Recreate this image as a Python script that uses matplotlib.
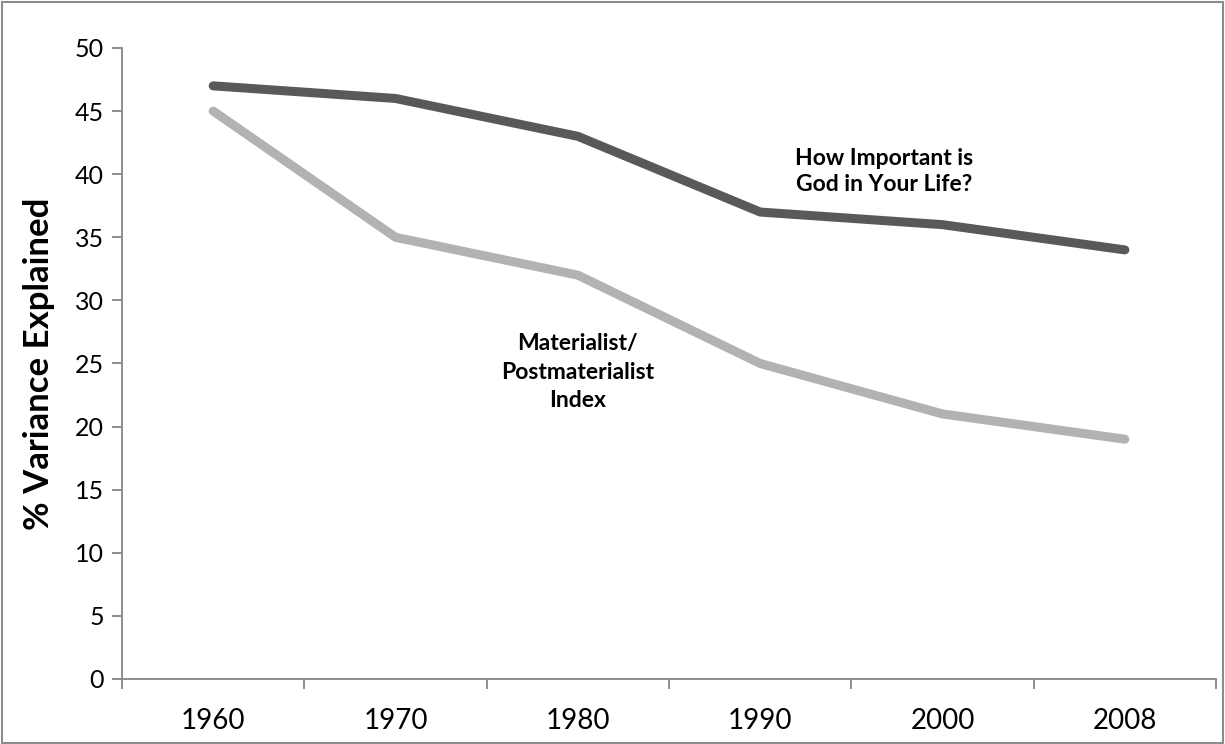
import numpy as np
import matplotlib

matplotlib.use("Agg")
import matplotlib.pyplot as plt
from matplotlib.patches import Rectangle

years = ["1960", "1970", "1980", "1990", "2000", "2008"]
god_importance = [47, 46, 43, 37, 36, 34]
materialist_index = [45, 35, 32, 25, 21, 19]
y_ticks = [0, 5, 10, 15, 20, 25, 30, 35, 40, 45, 50]

plt.rcParams["font.family"] = ["Lato", "DejaVu Sans"]

fig = plt.figure(figsize=(12.25, 7.44), dpi=100)
ax = fig.add_axes([0.0996, 0.0874, 0.8931, 0.8481])

x = np.arange(len(years)) + 0.5
ax.plot(x, god_importance, color="#595959", linewidth=6.5, solid_capstyle="round")
ax.plot(x, materialist_index, color="#b2b2b2", linewidth=6.5, solid_capstyle="round")

ax.set_xlim(0, len(years))
ax.set_ylim(0, 50)
ax.set_yticks(y_ticks)
ax.set_xticks(np.arange(len(years) + 1))
ax.set_xticklabels([])
ax.set_xticks(x, minor=True)
ax.set_xticklabels(years, minor=True)
ax.tick_params(axis="x", which="minor", length=0, pad=21, labelsize=20)
ax.tick_params(axis="x", which="major", length=7, color="#868686", width=1.3)
ax.tick_params(axis="y", length=7, color="#868686", width=1.3, labelsize=18, pad=6)

for side in ("top", "right"):
    ax.spines[side].set_visible(False)
for side in ("left", "bottom"):
    ax.spines[side].set_color("#868686")
    ax.spines[side].set_linewidth(1.3)

ax.set_ylabel("% Variance Explained", fontsize=25, fontweight="bold", labelpad=14)

ax.text(4.18, 40.2, "How Important is\nGod in Your Life?", ha="center", va="center",
        fontsize=16.5, fontweight="bold", linespacing=1.3)
ax.text(2.5, 24.3, "Materialist/\nPostmaterialist\nIndex", ha="center", va="center",
        fontsize=16.5, fontweight="bold", linespacing=1.45)

fig.patches.append(Rectangle((0.002, 0.002), 0.996, 0.995, transform=fig.transFigure,
                             fill=False, edgecolor="#8c8c8c", linewidth=1.5))

fig.savefig("out.png", dpi=100)
